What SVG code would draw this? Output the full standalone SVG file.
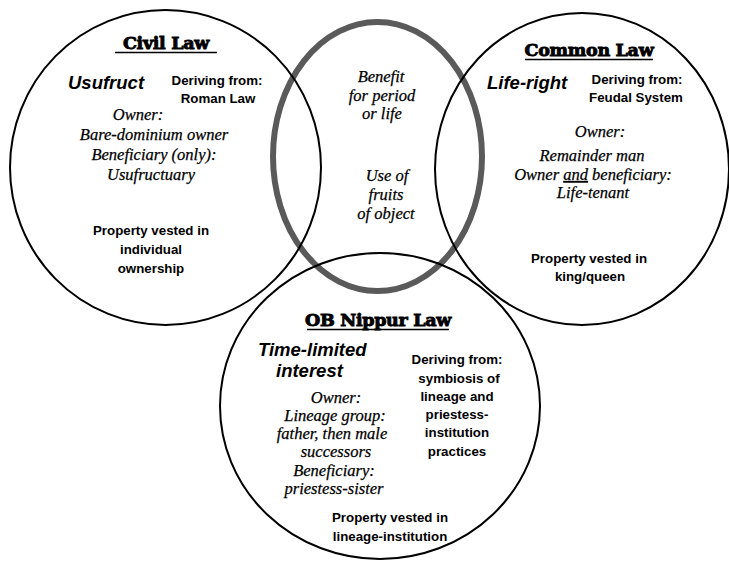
<svg xmlns="http://www.w3.org/2000/svg" width="729" height="561" viewBox="0 0 729 561">
<style>
.bg{fill:#ffffff}
.ring{fill:none;stroke:#000;stroke-width:2}
.shared{fill:none;stroke:#5a5a5a;stroke-width:6}
.title{font-family:"DejaVu Serif",serif;font-weight:bold;font-size:17.5px;text-anchor:middle;fill:#000;stroke:#000;stroke-width:0.9;letter-spacing:-0.3px}
.uline{stroke:#000;stroke-width:1.6}
.term{font-family:"Liberation Sans",Arial,sans-serif;font-weight:bold;font-style:italic;font-size:18.5px;fill:#000}
.b{font-family:"Liberation Sans",Arial,sans-serif;font-weight:bold;font-size:13.3px;text-anchor:middle;fill:#000}
.i{font-family:"Liberation Serif","Times New Roman",serif;font-style:italic;font-size:16.5px;text-anchor:middle;fill:#000;stroke:#000;stroke-width:0.25}
</style>
<rect class="bg" x="0" y="0" width="729" height="561"/>

<g id="shared">
<ellipse class="shared" cx="377.5" cy="156.5" rx="104.5" ry="134.5"/>
<text class="i" x="381" y="82">Benefit</text>
<text class="i" x="382" y="101">for period</text>
<text class="i" x="382" y="119">or life</text>
<text class="i" x="387" y="181">Use of</text>
<text class="i" x="386" y="200">fruits</text>
<text class="i" x="386" y="219">of object</text>
</g>

<g id="civil-law">
<ellipse class="ring" cx="165.5" cy="167.5" rx="155.5" ry="157.5"/>
<text class="title" x="166" y="49">Civil Law</text>
<line class="uline" x1="115" y1="52.5" x2="217" y2="52.5"/>
<text class="term" x="68" y="89">Usufruct</text>
<text class="b" x="217" y="85">Deriving from:</text>
<text class="b" x="218" y="103">Roman Law</text>
<text class="i" x="138" y="120">Owner:</text>
<text class="i" x="154" y="140">Bare-dominium owner</text>
<text class="i" x="154" y="160">Beneficiary (only):</text>
<text class="i" x="151" y="180">Usufructuary</text>
<text class="b" x="151" y="235">Property vested in</text>
<text class="b" x="151" y="254">individual</text>
<text class="b" x="151" y="273">ownership</text>
</g>

<g id="common-law">
<ellipse class="ring" cx="582" cy="169" rx="147" ry="156"/>
<text class="title" x="589" y="56">Common Law</text>
<line class="uline" x1="525" y1="59.5" x2="653" y2="59.5"/>
<text class="term" x="487" y="89">Life-right</text>
<text class="b" x="637" y="84">Deriving from:</text>
<text class="b" x="636" y="102">Feudal System</text>
<text class="i" x="600" y="137">Owner:</text>
<text class="i" x="592" y="161">Remainder man</text>
<text class="i" x="593" y="180">Owner <tspan text-decoration="underline">and</tspan> beneficiary:</text>
<text class="i" x="593" y="198">Life-tenant</text>
<text class="b" x="589" y="263">Property vested in</text>
<text class="b" x="590" y="281">king/queen</text>
</g>

<g id="nippur-law">
<ellipse class="ring" cx="380" cy="406" rx="160" ry="153"/>
<text class="title" x="378" y="326">OB Nippur Law</text>
<line class="uline" x1="307" y1="329.5" x2="449" y2="329.5"/>
<text class="term" x="258" y="356">Time-limited</text>
<text class="term" x="276" y="377">interest</text>
<text class="i" x="336" y="403">Owner:</text>
<text class="i" x="335" y="421">Lineage group:</text>
<text class="i" x="332" y="439">father, then male</text>
<text class="i" x="336" y="457">successors</text>
<text class="i" x="334" y="476">Beneficiary:</text>
<text class="i" x="334" y="494">priestess-sister</text>
<text class="b" x="457" y="364">Deriving from:</text>
<text class="b" x="459" y="383">symbiosis of</text>
<text class="b" x="457" y="401">lineage and</text>
<text class="b" x="457" y="419">priestess-</text>
<text class="b" x="457" y="437">institution</text>
<text class="b" x="457" y="456">practices</text>
<text class="b" x="390" y="522">Property vested in</text>
<text class="b" x="390" y="541">lineage-institution</text>
</g>
</svg>
